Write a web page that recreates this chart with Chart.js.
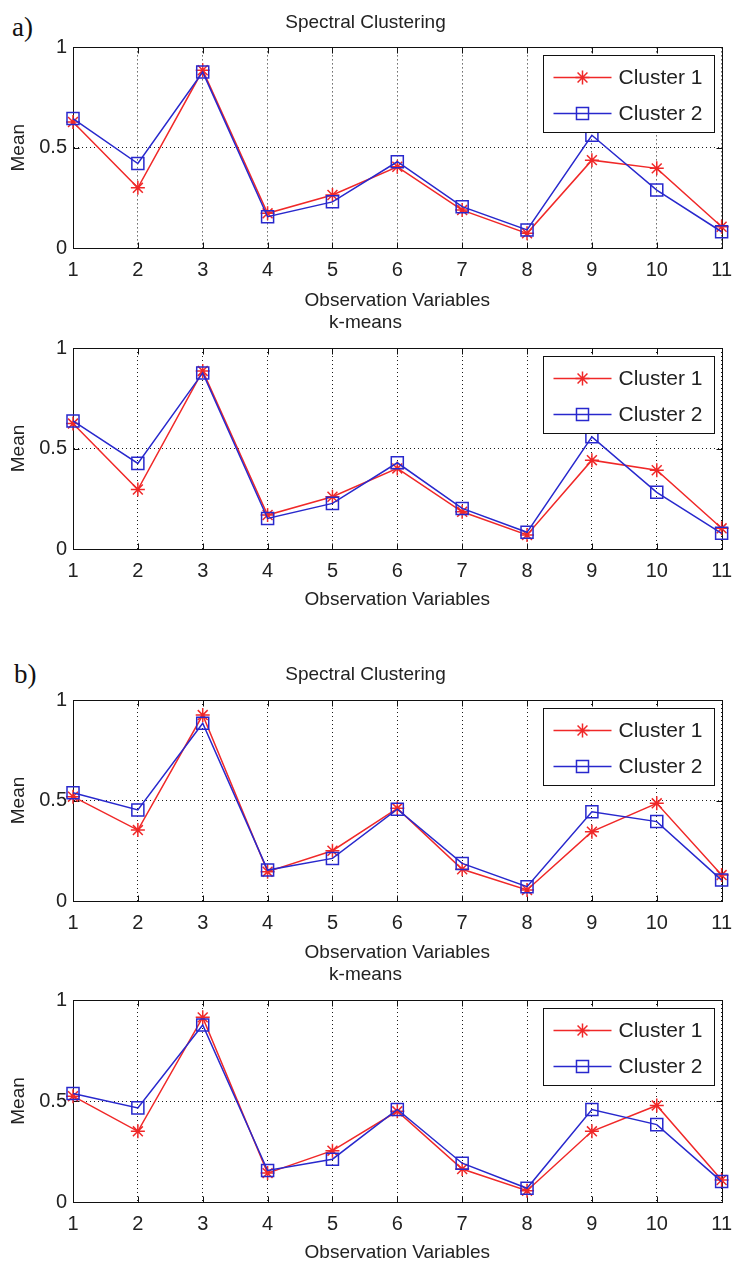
<!DOCTYPE html>
<html>
<head>
<meta charset="utf-8">
<script src="https://cdn.jsdelivr.net/npm/chart.js@4.4.1/dist/chart.umd.min.js"></script>
<style>
  html, body { margin: 0; padding: 0; background: #fff; overflow: hidden; }
  body { position: relative; width: 742px; height: 1262px; }
  canvas { position: absolute; left: 0; }
  .tag { position: absolute; font-family: "Liberation Serif", "Times New Roman", serif; font-size: 27px; color: #111; line-height: 30px; }
</style>
</head>
<body>
<div class="tag" style="left:12px; top:12px">a)</div>
<div class="tag" style="left:14px; top:659px">b)</div>
<canvas id="c1"></canvas>
<canvas id="c2"></canvas>
<canvas id="c3"></canvas>
<canvas id="c4"></canvas>
<script>
// observation variables on the x axis
const variables = ['1', '2', '3', '4', '5', '6', '7', '8', '9', '10', '11'];
const yTicks = [0, 0.5, 1];

// a) spectral clustering
const aSpectralC1 = [0.628, 0.300, 0.886, 0.173, 0.264, 0.405, 0.189, 0.073, 0.438, 0.397, 0.106];
const aSpectralC2 = [0.645, 0.421, 0.877, 0.156, 0.230, 0.430, 0.206, 0.090, 0.562, 0.289, 0.081];
// a) k-means
const aKmeansC1 = [0.624, 0.296, 0.886, 0.169, 0.260, 0.401, 0.185, 0.070, 0.442, 0.392, 0.103];
const aKmeansC2 = [0.637, 0.426, 0.876, 0.152, 0.227, 0.429, 0.202, 0.083, 0.558, 0.282, 0.078];
// b) spectral clustering
const bSpectralC1 = [0.519, 0.353, 0.925, 0.146, 0.250, 0.461, 0.158, 0.055, 0.345, 0.486, 0.129];
const bSpectralC2 = [0.539, 0.453, 0.884, 0.154, 0.212, 0.457, 0.187, 0.071, 0.444, 0.395, 0.104];
// b) k-means
const bKmeansC1 = [0.524, 0.350, 0.914, 0.143, 0.254, 0.449, 0.163, 0.056, 0.350, 0.478, 0.109];
const bKmeansC2 = [0.537, 0.466, 0.876, 0.156, 0.212, 0.458, 0.192, 0.068, 0.458, 0.383, 0.101];

const RED = 'rgb(240,40,40)';
const BLUE = 'rgb(40,40,205)';
const INK = '#222';

Chart.defaults.font.family = '"Liberation Sans", Arial, Helvetica, sans-serif';
Chart.defaults.color = INK;

// matlab style box round the axes with inward ticks
const axesBox = {
  id: 'axesBox',
  beforeDatasetsDraw(chart) {
    const { ctx, chartArea: a, scales: { x, y } } = chart;
    const l = Math.round(a.left) + 0.5, r = Math.round(a.right) + 0.5;
    const t = Math.round(a.top) + 0.5, b = Math.round(a.bottom) + 0.5;
    ctx.save();
    ctx.strokeStyle = '#111';
    ctx.lineWidth = 1;
    ctx.strokeRect(l, t, r - l, b - t);
    ctx.beginPath();
    x.ticks.forEach((tk, i) => {
      const px = Math.round(x.getPixelForTick(i)) + 0.5;
      ctx.moveTo(px, b); ctx.lineTo(px, b - 6);
      ctx.moveTo(px, t); ctx.lineTo(px, t + 6);
    });
    y.ticks.forEach((tk, i) => {
      const py = Math.round(y.getPixelForTick(i)) + 0.5;
      ctx.moveTo(l, py); ctx.lineTo(l + 6, py);
      ctx.moveTo(r, py); ctx.lineTo(r - 6, py);
    });
    ctx.stroke();
    ctx.restore();
  }
};

// legend in a framed box at the top right of the axes
const boxLegend = {
  id: 'boxLegend',
  afterDatasetsDraw(chart) {
    const { ctx, chartArea: a } = chart;
    const w = 171, h = 77;
    const x = Math.round(a.right - 8 - w) + 0.5, y = Math.round(a.top + 8) + 0.5;
    ctx.save();
    ctx.fillStyle = '#fff';
    ctx.fillRect(x, y, w, h);
    ctx.strokeStyle = '#111';
    ctx.lineWidth = 1;
    ctx.strokeRect(x, y, w, h);
    chart.data.datasets.forEach((ds, i) => {
      const ry = y + 22 + i * 36;
      ctx.strokeStyle = ds.borderColor;
      ctx.lineWidth = ds.borderWidth;
      ctx.beginPath();
      ctx.moveTo(x + 10, ry);
      ctx.lineTo(x + 68, ry);
      ctx.stroke();
      ctx.fillStyle = 'rgba(0,0,0,0)';
      ctx.lineWidth = ds.pointBorderWidth;
      Chart.helpers.drawPoint(ctx, {
        pointStyle: ds.pointStyle, radius: ds.pointRadius,
        borderWidth: ds.pointBorderWidth, rotation: 0
      }, x + 39, ry);
      ctx.fillStyle = INK;
      ctx.font = '21px "Liberation Sans", Arial, sans-serif';
      ctx.textBaseline = 'middle';
      ctx.fillText(ds.label, x + 75, ry + 1);
    });
    ctx.restore();
  }
};

function makeChart(id, top, height, plotBottom, titlePadTop, title, c1, c2) {
  const el = document.getElementById(id);
  el.width = 742;
  el.height = height;
  el.style.top = top + 'px';
  const gridOpts = { color: '#1a1a1a', lineWidth: 1, drawTicks: false };
  const borderOpts = { display: true, color: '#111', width: 1, dash: [1, 3] };
  return new Chart(el, {
    type: 'line',
    data: {
      labels: variables,
      datasets: [
        {
          label: 'Cluster 1', data: c1,
          borderColor: RED, borderWidth: 1.5,
          pointStyle: 'star', pointRadius: 7, pointBorderWidth: 1.5,
          pointBorderColor: RED, pointBackgroundColor: 'rgba(0,0,0,0)',
          tension: 0, clip: false, order: 2
        },
        {
          label: 'Cluster 2', data: c2,
          borderColor: BLUE, borderWidth: 1.5,
          pointStyle: 'rect', pointRadius: 8.5, pointBorderWidth: 1.5,
          pointBorderColor: BLUE, pointBackgroundColor: 'rgba(0,0,0,0)',
          tension: 0, clip: false, order: 1
        }
      ]
    },
    options: {
      responsive: false,
      animation: false,
      events: [],
      layout: { padding: { left: 0, right: 11, top: 0, bottom: 0 } },
      plugins: {
        legend: { display: false },
        tooltip: { enabled: false },
        title: {
          display: true, text: title, color: INK,
          font: { size: 19, weight: 'normal' },
          padding: { top: titlePadTop, bottom: 13.6 }
        }
      },
      scales: {
        x: {
          type: 'category', offset: false,
          grid: gridOpts, border: borderOpts,
          ticks: { font: { size: 20 }, padding: 10, maxRotation: 0, autoSkip: false, color: INK },
          title: { display: true, text: 'Observation Variables', font: { size: 19 }, padding: { top: 0, bottom: 0 }, color: INK },
          afterFit(scale) { scale.height = height - plotBottom; }
        },
        y: {
          min: 0, max: 1,
          grid: gridOpts, border: borderOpts,
          afterBuildTicks(scale) { scale.ticks = yTicks.map(v => ({ value: v })); },
          ticks: { font: { size: 20 }, padding: 6, color: INK, callback: v => String(v) },
          title: { display: true, text: 'Mean', font: { size: 19 }, padding: { top: 7, bottom: 0 }, color: INK },
          afterFit(scale) { scale.width = 73; }
        }
      }
    },
    plugins: [axesBox, boxLegend]
  });
}

makeChart('c1', 0, 312, 248, 11, 'Spectral Clustering', aSpectralC1, aSpectralC2);
makeChart('c2', 305, 306, 244, 6.6, 'k-means', aKmeansC1, aKmeansC2);
makeChart('c3', 640, 324, 261, 23.6, 'Spectral Clustering', bSpectralC1, bSpectralC2);
makeChart('c4', 955, 309, 247, 8.6, 'k-means', bKmeansC1, bKmeansC2);
</script>
</body>
</html>
